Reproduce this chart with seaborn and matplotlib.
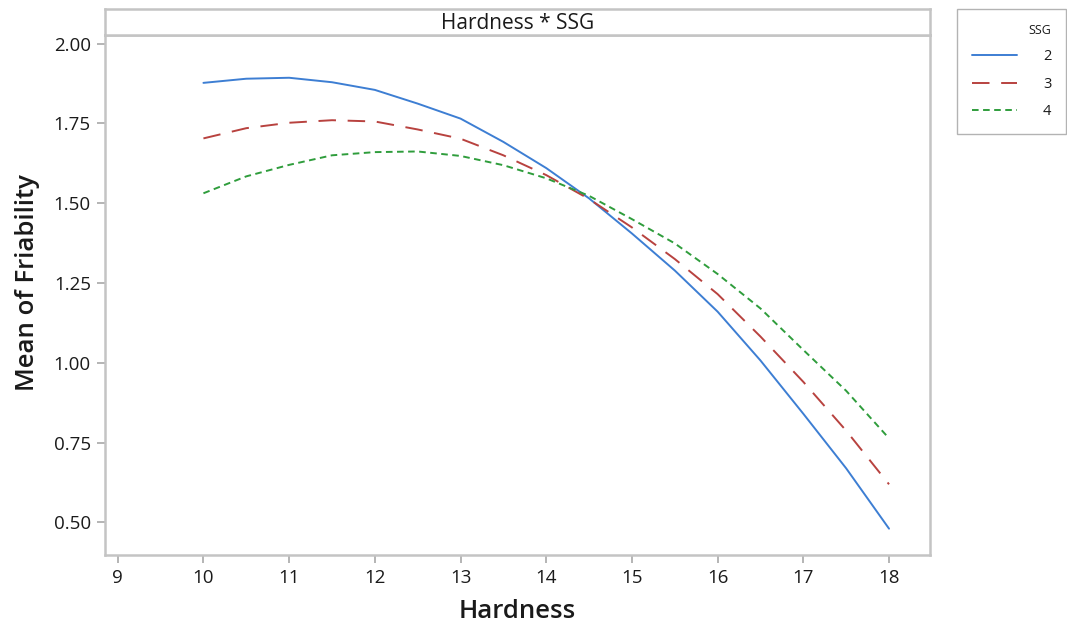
import matplotlib
matplotlib.use("Agg")
import matplotlib.pyplot as plt
import seaborn as sns
import pandas as pd

# ---- data ----
hardness = [10, 10.5, 11, 11.5, 12, 12.5, 13, 13.5, 14, 14.5, 15, 15.5, 16, 16.5, 17, 17.5, 18]
ssg_levels = ["2", "3", "4"]
friability_ssg2 = [1.877, 1.890, 1.893, 1.879, 1.855, 1.812, 1.765, 1.692, 1.610,
                   1.515, 1.405, 1.289, 1.160, 1.007, 0.840, 0.669, 0.480]
friability_ssg3 = [1.703, 1.735, 1.752, 1.760, 1.756, 1.731, 1.702, 1.650, 1.588,
                   1.513, 1.424, 1.325, 1.215, 1.082, 0.940, 0.787, 0.619]
friability_ssg4 = [1.531, 1.584, 1.620, 1.650, 1.660, 1.662, 1.648, 1.619, 1.578,
                   1.523, 1.450, 1.374, 1.278, 1.170, 1.040, 0.912, 0.763]
x_ticks = [9, 10, 11, 12, 13, 14, 15, 16, 17, 18]
y_ticks = [0.50, 0.75, 1.00, 1.25, 1.50, 1.75, 2.00]

rows = []
for lvl, vals in zip(ssg_levels, [friability_ssg2, friability_ssg3, friability_ssg4]):
    for h, v in zip(hardness, vals):
        rows.append({"Hardness": h, "Mean of Friability": v, "SSG": lvl})
df = pd.DataFrame(rows)

sns.set_theme(style="white")
plt.rcParams["font.family"] = ["Open Sans", "DejaVu Sans"]

W, H = 1067, 629
fig = plt.figure(figsize=(W / 100, H / 100), dpi=100)
fig.patch.set_facecolor("white")

left, right, top_main, bottom, top_strip = 104.7, 930.0, 35.0, 555.0, 9.3
ax = fig.add_axes([left / W, (H - bottom) / H, (right - left) / W, (bottom - top_main) / H])
sax = fig.add_axes([left / W, (H - top_main) / H, (right - left) / W, (top_main - top_strip) / H])

palette = {"2": "#3d7ed3", "3": "#b8423f", "4": "#2f9d3c"}
dashes = {"2": "", "3": (9.0, 6.0), "4": (3.4, 2.3)}

sns.lineplot(data=df, x="Hardness", y="Mean of Friability", hue="SSG", style="SSG",
             palette=palette, dashes=dashes, linewidth=1.4, ax=ax, legend=True)

ax.set_xlim(8.848, 18.478)
ax.set_ylim(0.3975, 2.027)
ax.set_xticks(x_ticks)
ax.set_xticklabels([str(t) for t in x_ticks])
ax.set_yticks(y_ticks)
ax.set_yticklabels([f"{t:.2f}" for t in y_ticks])

spine_col = "#c4c4c4"
for a in (ax, sax):
    for s in a.spines.values():
        s.set_color(spine_col)
        s.set_linewidth(1.8)
        s.set_visible(True)

ax.tick_params(axis="both", which="major", direction="out", length=6, width=1.2,
               color="#a8a8a8", labelsize=13.5, labelcolor="#1a1a1a", pad=4,
               bottom=True, left=True)
ax.set_xlabel("Hardness", fontsize=18.5, fontweight="semibold", color="#1a1a1a", labelpad=9)
ax.set_ylabel("Mean of Friability", fontsize=18.5, fontweight="semibold", color="#1a1a1a")
ax.yaxis.set_label_coords(-0.078, (bottom - (top_strip + bottom) / 2) / (bottom - top_main))

sax.set_xticks([])
sax.set_yticks([])
sax.set_facecolor("white")
sax.text(0.5, 0.45, "Hardness * SSG", transform=sax.transAxes, ha="center", va="center",
         fontsize=15, color="#1a1a1a")

# legend
handles, labels = ax.get_legend_handles_labels()
ax.get_legend().remove()
leg = fig.legend(handles, labels, title="SSG", loc="upper left",
                 bbox_to_anchor=(957 / W, 1 - 9.3 / H), frameon=True, fancybox=False,
                 fontsize=10.5, title_fontsize=9, handlelength=3.1, handletextpad=1.8,
                 borderpad=1.0, labelspacing=0.85, alignment="right", borderaxespad=0)
leg.get_frame().set_edgecolor("#a0a0a0")
leg.get_frame().set_linewidth(1.0)
for t in leg.get_texts():
    t.set_color("#1a1a1a")
leg.get_title().set_color("#1a1a1a")

fig.savefig("out.png", dpi=100, facecolor="white")
